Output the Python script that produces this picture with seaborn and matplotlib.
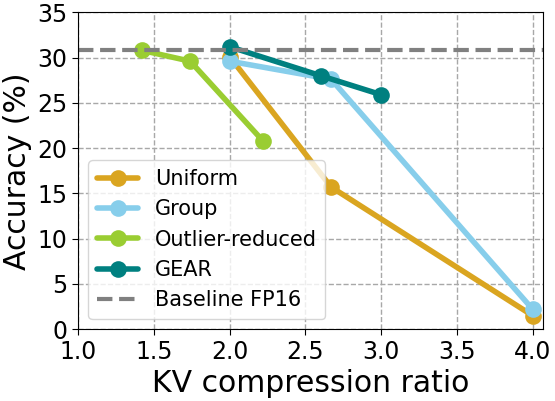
import numpy as np
import pandas as pd
import matplotlib
matplotlib.use("Agg")
import matplotlib.pyplot as plt
import seaborn as sns

# Values
uniform_x = [2.0, 2.67, 4.0]
uniform_y = [30.1, 15.7, 1.5]
group_x = [2.0, 2.67, 4.0]
group_y = [29.6, 27.6, 2.2]
outlier_x = [1.42, 1.74, 2.22]
outlier_y = [30.8, 29.6, 20.8]
gear_x = [2.0, 2.6, 3.0]
gear_y = [31.2, 28.0, 25.9]
baseline_fp16 = 30.8

methods = ["Uniform", "Group", "Outlier-reduced", "GEAR"]
colors = {"Uniform": "goldenrod", "Group": "skyblue",
          "Outlier-reduced": "yellowgreen", "GEAR": "teal"}

df = pd.concat([
    pd.DataFrame({"ratio": uniform_x, "acc": uniform_y, "method": "Uniform"}),
    pd.DataFrame({"ratio": group_x, "acc": group_y, "method": "Group"}),
    pd.DataFrame({"ratio": outlier_x, "acc": outlier_y, "method": "Outlier-reduced"}),
    pd.DataFrame({"ratio": gear_x, "acc": gear_y, "method": "GEAR"}),
], ignore_index=True)

sns.set_style("ticks")
plt.rcParams["font.family"] = ["DejaVu Sans"]
plt.rcParams["text.color"] = "black"
plt.rcParams["axes.labelcolor"] = "black"
plt.rcParams["xtick.color"] = "black"
plt.rcParams["ytick.color"] = "black"
plt.rcParams["axes.edgecolor"] = "black"

fig, ax = plt.subplots(figsize=(5.55, 4.01), dpi=100)
for m in methods:
    sub = df[df["method"] == m]
    sns.lineplot(data=sub, x="ratio", y="acc", ax=ax, color=colors[m],
                 marker="o", markersize=12, linewidth=4, markeredgewidth=0,
                 label=m, sort=False)
ax.axhline(baseline_fp16, color="gray", linestyle="--", linewidth=3,
           label="Baseline FP16")

ax.set_xlim(1.0, 4.07)
ax.set_ylim(0, 35)
ax.set_xticks(np.arange(1.0, 4.01, 0.5))
ax.set_yticks(np.arange(0, 36, 5))
ax.grid(True, linestyle="--", color="#a8a8a8", linewidth=1)
ax.tick_params(labelsize=17, length=4)
ax.set_xlabel("KV compression ratio", fontsize=21.5)
ax.set_ylabel("Accuracy (%)", fontsize=21.5)
ax.legend(loc="lower left", fontsize=15, framealpha=0.8)

plt.tight_layout(pad=0.2)
plt.savefig("out.png", dpi=100)
